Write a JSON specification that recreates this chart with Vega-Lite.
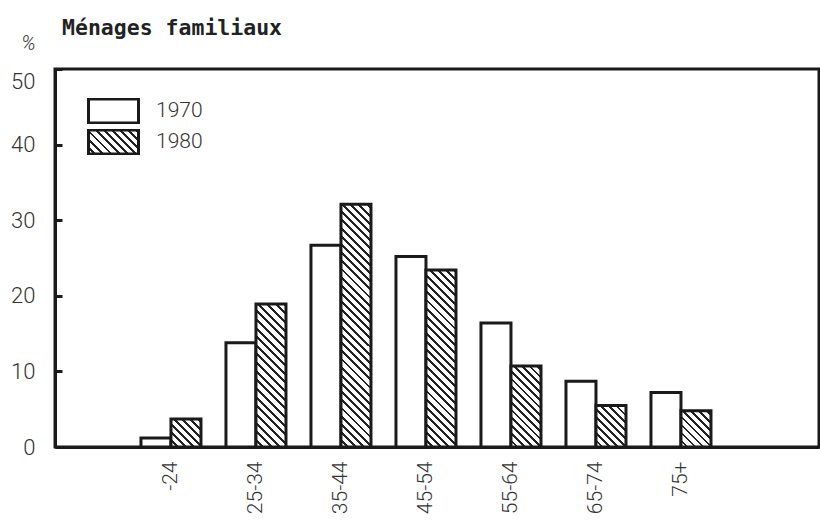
{
  "$schema": "https://vega.github.io/schema/vega-lite/v6.json",
  "width": 764,
  "height": 378,
  "autosize": {"type": "none"},
  "padding": {"left": 55, "top": 69, "right": 1, "bottom": 78},
  "background": "white",
  "title": {
    "text": "Ménages familiaux",
    "anchor": "start",
    "frame": "group",
    "font": "DejaVu Sans Mono",
    "fontSize": 21.5,
    "fontWeight": "bold",
    "color": "#222222",
    "dx": 7,
    "dy": 6,
    "offset": 0
  },
  "config": {"view": {"stroke": "#1a1a1a", "strokeWidth": 3}},
  "data": {
    "values": [
      {"age": "-24", "year": "1970", "pct": 1.2},
      {"age": "-24", "year": "1980", "pct": 3.7},
      {"age": "25-34", "year": "1970", "pct": 13.8},
      {"age": "25-34", "year": "1980", "pct": 18.9},
      {"age": "35-44", "year": "1970", "pct": 26.7},
      {"age": "35-44", "year": "1980", "pct": 32.1},
      {"age": "45-54", "year": "1970", "pct": 25.2},
      {"age": "45-54", "year": "1980", "pct": 23.4},
      {"age": "55-64", "year": "1970", "pct": 16.4},
      {"age": "55-64", "year": "1980", "pct": 10.7},
      {"age": "65-74", "year": "1970", "pct": 8.7},
      {"age": "65-74", "year": "1980", "pct": 5.5},
      {"age": "75+", "year": "1970", "pct": 7.2},
      {"age": "75+", "year": "1980", "pct": 4.8}
    ]
  },
  "mark": {"type": "bar", "strokeWidth": 3},
  "encoding": {
    "x": {
      "field": "age",
      "type": "nominal",
      "sort": null,
      "scale": {
        "domain": ["", "-24", "25-34", "35-44", "45-54", "55-64", "65-74", "75+", " "],
        "paddingInner": 0.294,
        "paddingOuter": 0.141,
        "align": 0.04
      },
      "axis": {
        "title": null,
        "labelAngle": -90,
        "ticks": false,
        "domainColor": "#1a1a1a",
        "domainWidth": 3,
        "labelFont": "Roboto",
        "labelFontWeight": 300,
        "labelFontSize": 21,
        "labelColor": "#333333",
        "labelPadding": 14
      }
    },
    "xOffset": {
      "field": "year",
      "type": "nominal",
      "scale": {"paddingInner": 0, "paddingOuter": 0}
    },
    "y": {
      "field": "pct",
      "type": "quantitative",
      "scale": {"domain": [0, 50], "nice": false},
      "axis": {
        "values": [0, 10, 20, 30, 40, 50],
        "grid": false,
        "title": "%",
        "titleAngle": 0,
        "titleX": -27,
        "titleY": -26,
        "titleAlign": "center",
        "titleBaseline": "middle",
        "titleFont": "Roboto",
        "titleFontWeight": 300,
        "titleFontStyle": "italic",
        "titleFontSize": 20,
        "titleColor": "#333333",
        "domainColor": "#1a1a1a",
        "domainWidth": 3,
        "tickColor": "#1a1a1a",
        "tickWidth": 3,
        "tickSize": -7,
        "labelPadding": 27,
        "labelFont": "Roboto",
        "labelFontWeight": 300,
        "labelFontSize": 22,
        "labelColor": "#333333",
        "labelOffset": {"condition": {"test": "datum.value === 50", "value": 12}, "value": 0}
      }
    },
    "fill": {
      "condition": [
        {
          "test": "datum.year === '1980' && datum.age === '-24'",
          "value": {
            "gradient": "linear", "x1": 0, "y1": 1, "x2": 1.0338, "y2": 0.0362,
            "stops": [
              {"offset":0.091,"color":"#fff"},{"offset":0.091,"color":"#222"},{"offset":0.14,"color":"#222"},{"offset":0.14,"color":"#fff"},
              {"offset":0.231,"color":"#fff"},{"offset":0.231,"color":"#222"},{"offset":0.28,"color":"#222"},{"offset":0.28,"color":"#fff"},
              {"offset":0.371,"color":"#fff"},{"offset":0.371,"color":"#222"},{"offset":0.42,"color":"#222"},{"offset":0.42,"color":"#fff"},
              {"offset":0.511,"color":"#fff"},{"offset":0.511,"color":"#222"},{"offset":0.56,"color":"#222"},{"offset":0.56,"color":"#fff"},
              {"offset":0.651,"color":"#fff"},{"offset":0.651,"color":"#222"},{"offset":0.7,"color":"#222"},{"offset":0.7,"color":"#fff"},
              {"offset":0.791,"color":"#fff"},{"offset":0.791,"color":"#222"},{"offset":0.84,"color":"#222"},{"offset":0.84,"color":"#fff"},
              {"offset":0.931,"color":"#fff"},{"offset":0.931,"color":"#222"},{"offset":0.98,"color":"#222"},{"offset":0.98,"color":"#fff"}
            ]
          }
        },
        {
          "test": "datum.year === '1980' && datum.age === '25-34'",
          "value": {
            "gradient": "linear", "x1": 0, "y1": 1, "x2": 0.24332, "y2": -0.15888,
            "stops": [
              {"offset":0.0325,"color":"#fff"},{"offset":0.0325,"color":"#222"},{"offset":0.05,"color":"#222"},{"offset":0.05,"color":"#fff"},
              {"offset":0.0825,"color":"#fff"},{"offset":0.0825,"color":"#222"},{"offset":0.1,"color":"#222"},{"offset":0.1,"color":"#fff"},
              {"offset":0.1325,"color":"#fff"},{"offset":0.1325,"color":"#222"},{"offset":0.15,"color":"#222"},{"offset":0.15,"color":"#fff"},
              {"offset":0.1825,"color":"#fff"},{"offset":0.1825,"color":"#222"},{"offset":0.2,"color":"#222"},{"offset":0.2,"color":"#fff"},
              {"offset":0.2325,"color":"#fff"},{"offset":0.2325,"color":"#222"},{"offset":0.25,"color":"#222"},{"offset":0.25,"color":"#fff"},
              {"offset":0.2825,"color":"#fff"},{"offset":0.2825,"color":"#222"},{"offset":0.3,"color":"#222"},{"offset":0.3,"color":"#fff"},
              {"offset":0.3325,"color":"#fff"},{"offset":0.3325,"color":"#222"},{"offset":0.35,"color":"#222"},{"offset":0.35,"color":"#fff"},
              {"offset":0.3825,"color":"#fff"},{"offset":0.3825,"color":"#222"},{"offset":0.4,"color":"#222"},{"offset":0.4,"color":"#fff"},
              {"offset":0.4325,"color":"#fff"},{"offset":0.4325,"color":"#222"},{"offset":0.45,"color":"#222"},{"offset":0.45,"color":"#fff"},
              {"offset":0.4825,"color":"#fff"},{"offset":0.4825,"color":"#222"},{"offset":0.5,"color":"#222"},{"offset":0.5,"color":"#fff"},
              {"offset":0.5325,"color":"#fff"},{"offset":0.5325,"color":"#222"},{"offset":0.55,"color":"#222"},{"offset":0.55,"color":"#fff"},
              {"offset":0.5825,"color":"#fff"},{"offset":0.5825,"color":"#222"},{"offset":0.6,"color":"#222"},{"offset":0.6,"color":"#fff"},
              {"offset":0.6325,"color":"#fff"},{"offset":0.6325,"color":"#222"},{"offset":0.65,"color":"#222"},{"offset":0.65,"color":"#fff"},
              {"offset":0.6825,"color":"#fff"},{"offset":0.6825,"color":"#222"},{"offset":0.7,"color":"#222"},{"offset":0.7,"color":"#fff"},
              {"offset":0.7325,"color":"#fff"},{"offset":0.7325,"color":"#222"},{"offset":0.75,"color":"#222"},{"offset":0.75,"color":"#fff"},
              {"offset":0.7825,"color":"#fff"},{"offset":0.7825,"color":"#222"},{"offset":0.8,"color":"#222"},{"offset":0.8,"color":"#fff"},
              {"offset":0.8325,"color":"#fff"},{"offset":0.8325,"color":"#222"},{"offset":0.85,"color":"#222"},{"offset":0.85,"color":"#fff"},
              {"offset":0.8825,"color":"#fff"},{"offset":0.8825,"color":"#222"},{"offset":0.9,"color":"#222"},{"offset":0.9,"color":"#fff"},
              {"offset":0.9325,"color":"#fff"},{"offset":0.9325,"color":"#222"},{"offset":0.95,"color":"#222"},{"offset":0.95,"color":"#fff"},
              {"offset":0.9825,"color":"#fff"},{"offset":0.9825,"color":"#222"},{"offset":1,"color":"#222"}
            ]
          }
        },
        {
          "test": "datum.year === '1980' && datum.age === '35-44'",
          "value": {
            "gradient": "linear", "x1": 0, "y1": 1, "x2": 0.13681, "y2": -0.10672,
            "stops": [
              {"offset":0.0195,"color":"#fff"},{"offset":0.0195,"color":"#222"},{"offset":0.03,"color":"#222"},{"offset":0.03,"color":"#fff"},
              {"offset":0.0495,"color":"#fff"},{"offset":0.0495,"color":"#222"},{"offset":0.06,"color":"#222"},{"offset":0.06,"color":"#fff"},
              {"offset":0.0795,"color":"#fff"},{"offset":0.0795,"color":"#222"},{"offset":0.09,"color":"#222"},{"offset":0.09,"color":"#fff"},
              {"offset":0.1095,"color":"#fff"},{"offset":0.1095,"color":"#222"},{"offset":0.12,"color":"#222"},{"offset":0.12,"color":"#fff"},
              {"offset":0.1395,"color":"#fff"},{"offset":0.1395,"color":"#222"},{"offset":0.15,"color":"#222"},{"offset":0.15,"color":"#fff"},
              {"offset":0.1695,"color":"#fff"},{"offset":0.1695,"color":"#222"},{"offset":0.18,"color":"#222"},{"offset":0.18,"color":"#fff"},
              {"offset":0.1995,"color":"#fff"},{"offset":0.1995,"color":"#222"},{"offset":0.21,"color":"#222"},{"offset":0.21,"color":"#fff"},
              {"offset":0.2295,"color":"#fff"},{"offset":0.2295,"color":"#222"},{"offset":0.24,"color":"#222"},{"offset":0.24,"color":"#fff"},
              {"offset":0.2595,"color":"#fff"},{"offset":0.2595,"color":"#222"},{"offset":0.27,"color":"#222"},{"offset":0.27,"color":"#fff"},
              {"offset":0.2895,"color":"#fff"},{"offset":0.2895,"color":"#222"},{"offset":0.3,"color":"#222"},{"offset":0.3,"color":"#fff"},
              {"offset":0.3195,"color":"#fff"},{"offset":0.3195,"color":"#222"},{"offset":0.33,"color":"#222"},{"offset":0.33,"color":"#fff"},
              {"offset":0.3495,"color":"#fff"},{"offset":0.3495,"color":"#222"},{"offset":0.36,"color":"#222"},{"offset":0.36,"color":"#fff"},
              {"offset":0.3795,"color":"#fff"},{"offset":0.3795,"color":"#222"},{"offset":0.39,"color":"#222"},{"offset":0.39,"color":"#fff"},
              {"offset":0.4095,"color":"#fff"},{"offset":0.4095,"color":"#222"},{"offset":0.42,"color":"#222"},{"offset":0.42,"color":"#fff"},
              {"offset":0.4395,"color":"#fff"},{"offset":0.4395,"color":"#222"},{"offset":0.45,"color":"#222"},{"offset":0.45,"color":"#fff"},
              {"offset":0.4695,"color":"#fff"},{"offset":0.4695,"color":"#222"},{"offset":0.48,"color":"#222"},{"offset":0.48,"color":"#fff"},
              {"offset":0.4995,"color":"#fff"},{"offset":0.4995,"color":"#222"},{"offset":0.51,"color":"#222"},{"offset":0.51,"color":"#fff"},
              {"offset":0.5295,"color":"#fff"},{"offset":0.5295,"color":"#222"},{"offset":0.54,"color":"#222"},{"offset":0.54,"color":"#fff"},
              {"offset":0.5595,"color":"#fff"},{"offset":0.5595,"color":"#222"},{"offset":0.57,"color":"#222"},{"offset":0.57,"color":"#fff"},
              {"offset":0.5895,"color":"#fff"},{"offset":0.5895,"color":"#222"},{"offset":0.6,"color":"#222"},{"offset":0.6,"color":"#fff"},
              {"offset":0.6195,"color":"#fff"},{"offset":0.6195,"color":"#222"},{"offset":0.63,"color":"#222"},{"offset":0.63,"color":"#fff"},
              {"offset":0.6495,"color":"#fff"},{"offset":0.6495,"color":"#222"},{"offset":0.66,"color":"#222"},{"offset":0.66,"color":"#fff"},
              {"offset":0.6795,"color":"#fff"},{"offset":0.6795,"color":"#222"},{"offset":0.69,"color":"#222"},{"offset":0.69,"color":"#fff"},
              {"offset":0.7095,"color":"#fff"},{"offset":0.7095,"color":"#222"},{"offset":0.72,"color":"#222"},{"offset":0.72,"color":"#fff"},
              {"offset":0.7395,"color":"#fff"},{"offset":0.7395,"color":"#222"},{"offset":0.75,"color":"#222"},{"offset":0.75,"color":"#fff"},
              {"offset":0.7695,"color":"#fff"},{"offset":0.7695,"color":"#222"},{"offset":0.78,"color":"#222"},{"offset":0.78,"color":"#fff"},
              {"offset":0.7995,"color":"#fff"},{"offset":0.7995,"color":"#222"},{"offset":0.81,"color":"#222"},{"offset":0.81,"color":"#fff"},
              {"offset":0.8295,"color":"#fff"},{"offset":0.8295,"color":"#222"},{"offset":0.84,"color":"#222"},{"offset":0.84,"color":"#fff"},
              {"offset":0.8595,"color":"#fff"},{"offset":0.8595,"color":"#222"},{"offset":0.87,"color":"#222"},{"offset":0.87,"color":"#fff"},
              {"offset":0.8895,"color":"#fff"},{"offset":0.8895,"color":"#222"},{"offset":0.9,"color":"#222"},{"offset":0.9,"color":"#fff"},
              {"offset":0.9195,"color":"#fff"},{"offset":0.9195,"color":"#222"},{"offset":0.93,"color":"#222"},{"offset":0.93,"color":"#fff"},
              {"offset":0.9495,"color":"#fff"},{"offset":0.9495,"color":"#222"},{"offset":0.96,"color":"#222"},{"offset":0.96,"color":"#fff"},
              {"offset":0.9795,"color":"#fff"},{"offset":0.9795,"color":"#222"},{"offset":0.99,"color":"#222"},{"offset":0.99,"color":"#fff"}
            ]
          }
        },
        {
          "test": "datum.year === '1980' && datum.age === '45-54'",
          "value": {
            "gradient": "linear", "x1": 0, "y1": 1, "x2": 0.1928, "y2": -0.1369,
            "stops": [
              {"offset":0.026,"color":"#fff"},{"offset":0.026,"color":"#222"},{"offset":0.04,"color":"#222"},{"offset":0.04,"color":"#fff"},
              {"offset":0.066,"color":"#fff"},{"offset":0.066,"color":"#222"},{"offset":0.08,"color":"#222"},{"offset":0.08,"color":"#fff"},
              {"offset":0.106,"color":"#fff"},{"offset":0.106,"color":"#222"},{"offset":0.12,"color":"#222"},{"offset":0.12,"color":"#fff"},
              {"offset":0.146,"color":"#fff"},{"offset":0.146,"color":"#222"},{"offset":0.16,"color":"#222"},{"offset":0.16,"color":"#fff"},
              {"offset":0.186,"color":"#fff"},{"offset":0.186,"color":"#222"},{"offset":0.2,"color":"#222"},{"offset":0.2,"color":"#fff"},
              {"offset":0.226,"color":"#fff"},{"offset":0.226,"color":"#222"},{"offset":0.24,"color":"#222"},{"offset":0.24,"color":"#fff"},
              {"offset":0.266,"color":"#fff"},{"offset":0.266,"color":"#222"},{"offset":0.28,"color":"#222"},{"offset":0.28,"color":"#fff"},
              {"offset":0.306,"color":"#fff"},{"offset":0.306,"color":"#222"},{"offset":0.32,"color":"#222"},{"offset":0.32,"color":"#fff"},
              {"offset":0.346,"color":"#fff"},{"offset":0.346,"color":"#222"},{"offset":0.36,"color":"#222"},{"offset":0.36,"color":"#fff"},
              {"offset":0.386,"color":"#fff"},{"offset":0.386,"color":"#222"},{"offset":0.4,"color":"#222"},{"offset":0.4,"color":"#fff"},
              {"offset":0.426,"color":"#fff"},{"offset":0.426,"color":"#222"},{"offset":0.44,"color":"#222"},{"offset":0.44,"color":"#fff"},
              {"offset":0.466,"color":"#fff"},{"offset":0.466,"color":"#222"},{"offset":0.48,"color":"#222"},{"offset":0.48,"color":"#fff"},
              {"offset":0.506,"color":"#fff"},{"offset":0.506,"color":"#222"},{"offset":0.52,"color":"#222"},{"offset":0.52,"color":"#fff"},
              {"offset":0.546,"color":"#fff"},{"offset":0.546,"color":"#222"},{"offset":0.56,"color":"#222"},{"offset":0.56,"color":"#fff"},
              {"offset":0.586,"color":"#fff"},{"offset":0.586,"color":"#222"},{"offset":0.6,"color":"#222"},{"offset":0.6,"color":"#fff"},
              {"offset":0.626,"color":"#fff"},{"offset":0.626,"color":"#222"},{"offset":0.64,"color":"#222"},{"offset":0.64,"color":"#fff"},
              {"offset":0.666,"color":"#fff"},{"offset":0.666,"color":"#222"},{"offset":0.68,"color":"#222"},{"offset":0.68,"color":"#fff"},
              {"offset":0.706,"color":"#fff"},{"offset":0.706,"color":"#222"},{"offset":0.72,"color":"#222"},{"offset":0.72,"color":"#fff"},
              {"offset":0.746,"color":"#fff"},{"offset":0.746,"color":"#222"},{"offset":0.76,"color":"#222"},{"offset":0.76,"color":"#fff"},
              {"offset":0.786,"color":"#fff"},{"offset":0.786,"color":"#222"},{"offset":0.8,"color":"#222"},{"offset":0.8,"color":"#fff"},
              {"offset":0.826,"color":"#fff"},{"offset":0.826,"color":"#222"},{"offset":0.84,"color":"#222"},{"offset":0.84,"color":"#fff"},
              {"offset":0.866,"color":"#fff"},{"offset":0.866,"color":"#222"},{"offset":0.88,"color":"#222"},{"offset":0.88,"color":"#fff"},
              {"offset":0.906,"color":"#fff"},{"offset":0.906,"color":"#222"},{"offset":0.92,"color":"#222"},{"offset":0.92,"color":"#fff"},
              {"offset":0.946,"color":"#fff"},{"offset":0.946,"color":"#222"},{"offset":0.96,"color":"#222"},{"offset":0.96,"color":"#fff"},
              {"offset":0.986,"color":"#fff"},{"offset":0.986,"color":"#222"},{"offset":1,"color":"#222"}
            ]
          }
        },
        {
          "test": "datum.year === '1980' && datum.age === '55-64'",
          "value": {
            "gradient": "linear", "x1": 0, "y1": 1, "x2": 0.44695, "y2": -0.20512,
            "stops": [
              {"offset":0.0455,"color":"#fff"},{"offset":0.0455,"color":"#222"},{"offset":0.07,"color":"#222"},{"offset":0.07,"color":"#fff"},
              {"offset":0.1155,"color":"#fff"},{"offset":0.1155,"color":"#222"},{"offset":0.14,"color":"#222"},{"offset":0.14,"color":"#fff"},
              {"offset":0.1855,"color":"#fff"},{"offset":0.1855,"color":"#222"},{"offset":0.21,"color":"#222"},{"offset":0.21,"color":"#fff"},
              {"offset":0.2555,"color":"#fff"},{"offset":0.2555,"color":"#222"},{"offset":0.28,"color":"#222"},{"offset":0.28,"color":"#fff"},
              {"offset":0.3255,"color":"#fff"},{"offset":0.3255,"color":"#222"},{"offset":0.35,"color":"#222"},{"offset":0.35,"color":"#fff"},
              {"offset":0.3955,"color":"#fff"},{"offset":0.3955,"color":"#222"},{"offset":0.42,"color":"#222"},{"offset":0.42,"color":"#fff"},
              {"offset":0.4655,"color":"#fff"},{"offset":0.4655,"color":"#222"},{"offset":0.49,"color":"#222"},{"offset":0.49,"color":"#fff"},
              {"offset":0.5355,"color":"#fff"},{"offset":0.5355,"color":"#222"},{"offset":0.56,"color":"#222"},{"offset":0.56,"color":"#fff"},
              {"offset":0.6055,"color":"#fff"},{"offset":0.6055,"color":"#222"},{"offset":0.63,"color":"#222"},{"offset":0.63,"color":"#fff"},
              {"offset":0.6755,"color":"#fff"},{"offset":0.6755,"color":"#222"},{"offset":0.7,"color":"#222"},{"offset":0.7,"color":"#fff"},
              {"offset":0.7455,"color":"#fff"},{"offset":0.7455,"color":"#222"},{"offset":0.77,"color":"#222"},{"offset":0.77,"color":"#fff"},
              {"offset":0.8155,"color":"#fff"},{"offset":0.8155,"color":"#222"},{"offset":0.84,"color":"#222"},{"offset":0.84,"color":"#fff"},
              {"offset":0.8855,"color":"#fff"},{"offset":0.8855,"color":"#222"},{"offset":0.91,"color":"#222"},{"offset":0.91,"color":"#fff"},
              {"offset":0.9555,"color":"#fff"},{"offset":0.9555,"color":"#222"},{"offset":0.98,"color":"#222"},{"offset":0.98,"color":"#fff"}
            ]
          }
        },
        {
          "test": "datum.year === '1980' && datum.age === '65-74'",
          "value": {
            "gradient": "linear", "x1": 0, "y1": 1, "x2": 0.81684, "y2": -0.13214,
            "stops": [
              {"offset":0.0715,"color":"#fff"},{"offset":0.0715,"color":"#222"},{"offset":0.11,"color":"#222"},{"offset":0.11,"color":"#fff"},
              {"offset":0.1815,"color":"#fff"},{"offset":0.1815,"color":"#222"},{"offset":0.22,"color":"#222"},{"offset":0.22,"color":"#fff"},
              {"offset":0.2915,"color":"#fff"},{"offset":0.2915,"color":"#222"},{"offset":0.33,"color":"#222"},{"offset":0.33,"color":"#fff"},
              {"offset":0.4015,"color":"#fff"},{"offset":0.4015,"color":"#222"},{"offset":0.44,"color":"#222"},{"offset":0.44,"color":"#fff"},
              {"offset":0.5115,"color":"#fff"},{"offset":0.5115,"color":"#222"},{"offset":0.55,"color":"#222"},{"offset":0.55,"color":"#fff"},
              {"offset":0.6215,"color":"#fff"},{"offset":0.6215,"color":"#222"},{"offset":0.66,"color":"#222"},{"offset":0.66,"color":"#fff"},
              {"offset":0.7315,"color":"#fff"},{"offset":0.7315,"color":"#222"},{"offset":0.77,"color":"#222"},{"offset":0.77,"color":"#fff"},
              {"offset":0.8415,"color":"#fff"},{"offset":0.8415,"color":"#222"},{"offset":0.88,"color":"#222"},{"offset":0.88,"color":"#fff"},
              {"offset":0.9515,"color":"#fff"},{"offset":0.9515,"color":"#222"},{"offset":0.99,"color":"#222"},{"offset":0.99,"color":"#fff"}
            ]
          }
        },
        {
          "test": "datum.year === '1980' && datum.age === '75+'",
          "value": {
            "gradient": "linear", "x1": 0, "y1": 1, "x2": 0.89702, "y2": -0.0851,
            "stops": [
              {"offset":0.078,"color":"#fff"},{"offset":0.078,"color":"#222"},{"offset":0.12,"color":"#222"},{"offset":0.12,"color":"#fff"},
              {"offset":0.198,"color":"#fff"},{"offset":0.198,"color":"#222"},{"offset":0.24,"color":"#222"},{"offset":0.24,"color":"#fff"},
              {"offset":0.318,"color":"#fff"},{"offset":0.318,"color":"#222"},{"offset":0.36,"color":"#222"},{"offset":0.36,"color":"#fff"},
              {"offset":0.438,"color":"#fff"},{"offset":0.438,"color":"#222"},{"offset":0.48,"color":"#222"},{"offset":0.48,"color":"#fff"},
              {"offset":0.558,"color":"#fff"},{"offset":0.558,"color":"#222"},{"offset":0.6,"color":"#222"},{"offset":0.6,"color":"#fff"},
              {"offset":0.678,"color":"#fff"},{"offset":0.678,"color":"#222"},{"offset":0.72,"color":"#222"},{"offset":0.72,"color":"#fff"},
              {"offset":0.798,"color":"#fff"},{"offset":0.798,"color":"#222"},{"offset":0.84,"color":"#222"},{"offset":0.84,"color":"#fff"},
              {"offset":0.918,"color":"#fff"},{"offset":0.918,"color":"#222"},{"offset":0.96,"color":"#222"},{"offset":0.96,"color":"#fff"}
            ]
          }
        }
      ],
      "value": "white"
    },
    "stroke": {
      "field": "year",
      "type": "nominal",
      "scale": {"range": ["#1a1a1a", "#1a1a1a"]},
      "legend": {
        "title": null,
        "orient": "none",
        "legendX": 32,
        "legendY": 29,
        "symbolType": "M-1,-0.48L1,-0.48L1,0.48L-1,0.48Z",
        "symbolSize": 2500,
        "symbolStrokeWidth": 3,
        "symbolStrokeColor": "#1a1a1a",
        "labelFont": "Roboto",
        "labelFontWeight": 300,
        "labelFontSize": 21,
        "labelColor": "#333333",
        "labelOffset": 16,
        "clipHeight": 26,
        "rowPadding": 5,
        "encoding": {
          "symbols": {
            "fill": {
              "condition": {
                "test": "datum.value == '1980'",
                "value": {
                  "gradient": "linear", "x1": 0, "y1": 1, "x2": 1.2029, "y2": 0.4226,
                  "stops": [
                    {"offset":0.0715,"color":"#fff"},{"offset":0.0715,"color":"#222"},{"offset":0.11,"color":"#222"},{"offset":0.11,"color":"#fff"},
                    {"offset":0.1815,"color":"#fff"},{"offset":0.1815,"color":"#222"},{"offset":0.22,"color":"#222"},{"offset":0.22,"color":"#fff"},
                    {"offset":0.2915,"color":"#fff"},{"offset":0.2915,"color":"#222"},{"offset":0.33,"color":"#222"},{"offset":0.33,"color":"#fff"},
                    {"offset":0.4015,"color":"#fff"},{"offset":0.4015,"color":"#222"},{"offset":0.44,"color":"#222"},{"offset":0.44,"color":"#fff"},
                    {"offset":0.5115,"color":"#fff"},{"offset":0.5115,"color":"#222"},{"offset":0.55,"color":"#222"},{"offset":0.55,"color":"#fff"},
                    {"offset":0.6215,"color":"#fff"},{"offset":0.6215,"color":"#222"},{"offset":0.66,"color":"#222"},{"offset":0.66,"color":"#fff"},
                    {"offset":0.7315,"color":"#fff"},{"offset":0.7315,"color":"#222"},{"offset":0.77,"color":"#222"},{"offset":0.77,"color":"#fff"},
                    {"offset":0.8415,"color":"#fff"},{"offset":0.8415,"color":"#222"},{"offset":0.88,"color":"#222"},{"offset":0.88,"color":"#fff"},
                    {"offset":0.9515,"color":"#fff"},{"offset":0.9515,"color":"#222"},{"offset":0.99,"color":"#222"},{"offset":0.99,"color":"#fff"}
                  ]
                }
              },
              "value": "white"
            }
          }
        }
      }
    }
  }
}
